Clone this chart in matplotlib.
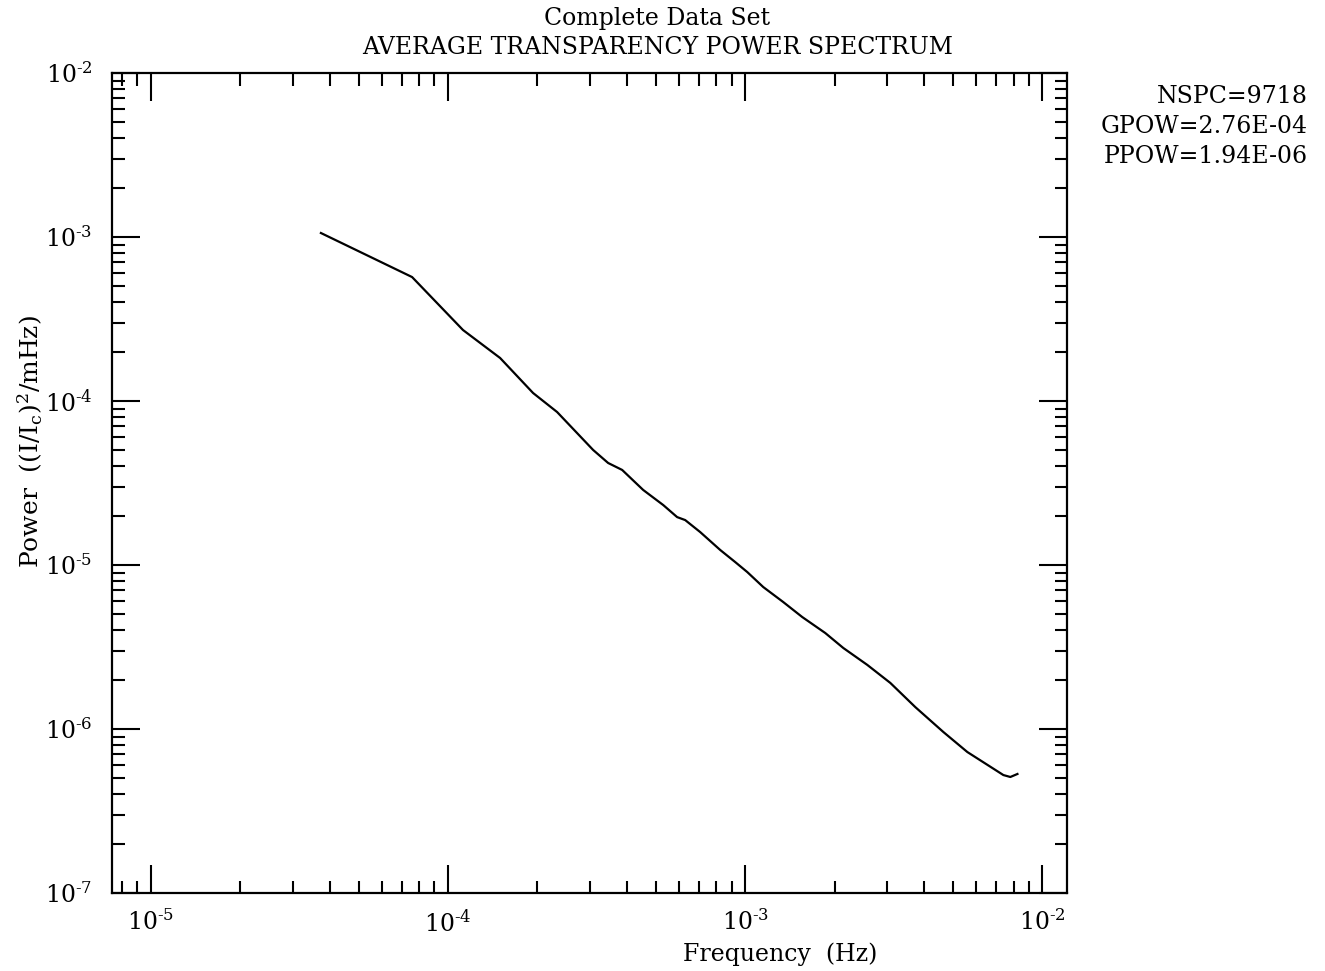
import numpy as np
import matplotlib
matplotlib.use("Agg")
import matplotlib.pyplot as plt
from matplotlib.ticker import LogLocator, NullFormatter, FuncFormatter

plt.rcParams["font.family"] = "DejaVu Serif"
plt.rcParams["mathtext.fontset"] = "dejavuserif"

# spectrum
freq = [3.735e-5, 7.57e-5, 1.123e-4, 1.497e-4, 1.933e-4, 2.328e-4, 3.078e-4,
        3.457e-4, 3.854e-4, 4.535e-4, 5.30e-4, 5.90e-4, 6.28e-4, 7.05e-4,
        8.24e-4, 9.25e-4, 1.016e-3, 1.150e-3, 1.342e-3, 1.555e-3, 1.859e-3,
        2.138e-3, 2.575e-3, 3.078e-3, 3.736e-3, 4.642e-3, 5.59e-3, 6.79e-3,
        7.39e-3, 7.80e-3, 8.24e-3]
power = [1.058e-3, 5.70e-4, 2.71e-4, 1.83e-4, 1.119e-4, 8.57e-5, 5.03e-5,
         4.19e-5, 3.80e-5, 2.87e-5, 2.32e-5, 1.96e-5, 1.88e-5, 1.59e-5,
         1.235e-5, 1.043e-5, 9.06e-6, 7.34e-6, 5.95e-6, 4.82e-6, 3.85e-6,
         3.12e-6, 2.46e-6, 1.91e-6, 1.36e-6, 9.59e-7, 7.24e-7, 5.78e-7,
         5.24e-7, 5.10e-7, 5.32e-7]

info = ["NSPC=9718", "GPOW=2.76E-04", "PPOW=1.94E-06"]


def decade(v, pos):
    e = int(round(np.log10(v)))
    return r"$10^{\text{-}%d}$" % (-e)


fig = plt.figure(figsize=(13.25, 9.71), dpi=100)
ax = fig.add_axes([0.0845, 0.0803, 0.7208, 0.8445])

ax.plot(freq, power, color="black", lw=1.6)
ax.set_xscale("log")
ax.set_yscale("log")
ax.set_xlim(7.4e-6, 1.21e-2)
ax.set_ylim(1e-7, 1e-2)

for axis in (ax.xaxis, ax.yaxis):
    axis.set_major_locator(LogLocator(base=10))
    axis.set_minor_locator(LogLocator(base=10, subs=np.arange(2, 10)))
    axis.set_minor_formatter(NullFormatter())
    axis.set_major_formatter(FuncFormatter(decade))

ax.tick_params(which="both", direction="in", top=True, right=True,
               width=1.5, labelsize=17)
ax.tick_params(which="major", length=20)
ax.tick_params(which="minor", length=9)
ax.tick_params(axis="x", pad=12)
ax.tick_params(axis="y", pad=14)
for s in ax.spines.values():
    s.set_linewidth(1.6)

fig.text(0.496, 0.981, "Complete Data Set", ha="center", va="center", fontsize=17)
fig.text(0.496, 0.951, "AVERAGE TRANSPARENCY POWER SPECTRUM", ha="center",
         va="center", fontsize=17)
fig.text(0.589, 0.017, "Frequency  (Hz)", ha="center", va="center", fontsize=17)
fig.text(0.023, 0.545, r"Power  ((I/I$_\mathrm{c}$)$^2$/mHz)", rotation=90,
         ha="center", va="center", fontsize=18)

for i, t in enumerate(info):
    fig.text(0.987, 0.901 - i * 0.031, t, ha="right", va="center", fontsize=17)

fig.savefig("out.png", dpi=100)
